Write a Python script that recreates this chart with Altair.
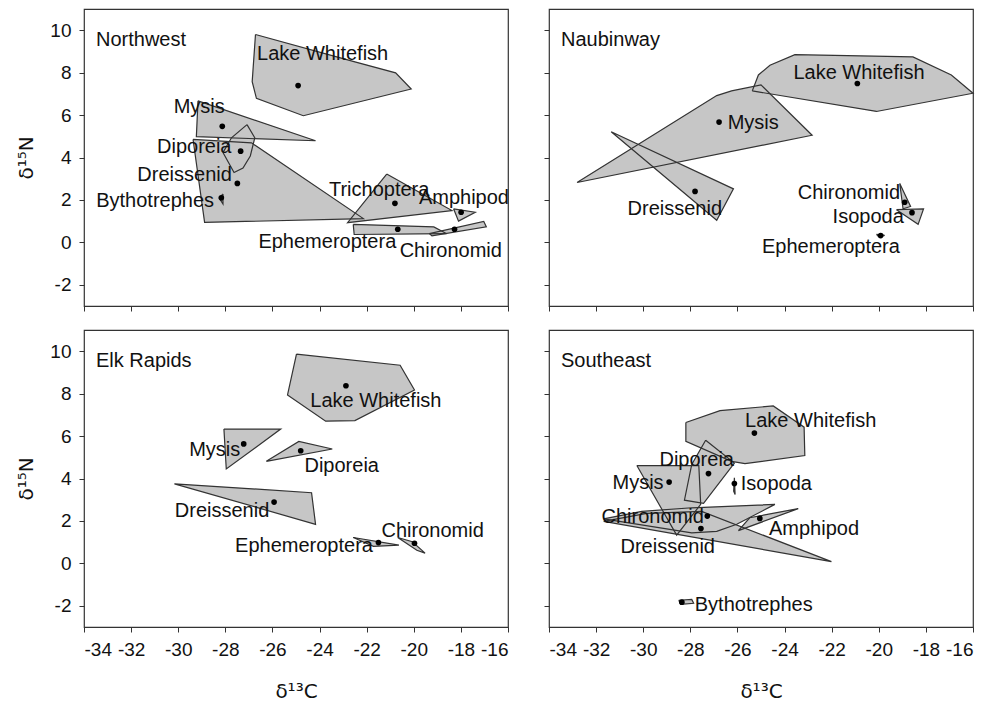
import altair as alt
import pandas as pd

# ---------------- data ----------------
X_TICKS = [-34, -32, -30, -28, -26, -24, -22, -20, -18, -16]
Y_TICKS = [-2, 0, 2, 4, 6, 8, 10]
X_DOMAIN = [-34, -16]
Y_DOMAIN = [-3, 11]

PANELS = ["Northwest", "Naubinway", "Elk Rapids", "Southeast"]

NORTHWEST_HULLS = {
    "Lake Whitefish": [(-26.72, 9.80), (-22.50, 8.51), (-20.77, 7.99), (-20.11, 7.23), (-24.69, 5.97), (-26.68, 6.79), (-26.86, 7.57)],
    "Mysis": [(-29.16, 6.67), (-24.17, 4.79), (-29.23, 4.98)],
    "Diporeia": [(-27.08, 5.55), (-26.75, 4.93), (-26.94, 4.07), (-27.25, 3.50), (-27.63, 3.29), (-28.10, 4.23), (-27.74, 4.93)],
    "Dreissenid": [(-29.37, 4.85), (-26.89, 4.69), (-22.14, 1.12), (-28.88, 0.94)],
    "Bythotrephes": [(-28.10, 2.28), (-28.10, 1.81), (-28.26, 2.09)],
    "Trichoptera": [(-21.15, 3.22), (-18.38, 1.50), (-22.81, 0.93)],
    "Amphipod": [(-18.31, 1.58), (-17.39, 1.42), (-18.10, 1.00)],
    "Ephemeroptera": [(-22.57, 0.85), (-19.15, 0.73), (-18.60, 0.41), (-22.53, 0.37)],
    "Chironomid": [(-19.34, 0.41), (-17.03, 0.99), (-16.92, 0.73), (-19.23, 0.31)],
}
NORTHWEST_MEANS = {
    "Lake Whitefish": (-24.91, 7.39), "Mysis": (-28.13, 5.47), "Diporeia": (-27.35, 4.30),
    "Dreissenid": (-27.49, 2.78), "Bythotrephes": (-28.17, 2.10), "Trichoptera": (-20.80, 1.84),
    "Amphipod": (-17.99, 1.42), "Ephemeroptera": (-20.68, 0.62), "Chironomid": (-18.27, 0.62),
}
NORTHWEST_LABELS = {
    "Lake Whitefish": (-23.87, 8.87), "Mysis": (-29.11, 6.36), "Diporeia": (-29.32, 4.51),
    "Dreissenid": (-29.73, 3.18), "Bythotrephes": (-30.98, 1.97), "Trichoptera": (-21.47, 2.47),
    "Amphipod": (-17.87, 2.11), "Ephemeroptera": (-23.67, 0.0), "Chironomid": (-18.43, -0.40),
}

NAUBINWAY_HULLS = {
    "Lake Whitefish": [(-25.37, 7.14), (-25.11, 7.89), (-24.62, 8.35), (-23.56, 8.85), (-18.55, 8.74), (-16.92, 7.89), (-16.0, 7.03), (-20.10, 6.17)],
    "Mysis": [(-32.81, 2.82), (-26.88, 6.92), (-26.25, 7.14), (-25.0, 7.42), (-22.83, 5.05)],
    "Dreissenid": [(-31.36, 5.21), (-26.17, 2.52), (-26.88, 1.04)],
    "Chironomid": [(-19.11, 2.78), (-18.65, 1.69), (-18.97, 1.58)],
    "Isopoda": [(-19.25, 1.54), (-18.10, 1.58), (-18.33, 0.85)],
    "Ephemeroptera": [(-20.10, 0.38), (-19.75, 0.33), (-20.00, 0.26)],
}
NAUBINWAY_MEANS = {
    "Lake Whitefish": (-20.91, 7.49), "Mysis": (-26.78, 5.67), "Dreissenid": (-27.80, 2.40),
    "Chironomid": (-18.90, 1.89), "Isopoda": (-18.59, 1.40), "Ephemeroptera": (-19.92, 0.32),
}
NAUBINWAY_LABELS = {
    "Lake Whitefish": (-20.84, 7.96), "Mysis": (-25.33, 5.63), "Dreissenid": (-28.66, 1.58),
    "Chironomid": (-21.27, 2.31), "Isopoda": (-20.45, 1.19), "Ephemeroptera": (-22.03, -0.21),
}

ELK_RAPIDS_HULLS = {
    "Lake Whitefish": [(-24.98, 9.86), (-20.58, 9.34), (-19.97, 8.17), (-22.50, 6.73), (-23.74, 6.70), (-25.36, 7.94)],
    "Mysis": [(-28.06, 6.33), (-25.65, 6.33), (-27.96, 4.45)],
    "Diporeia": [(-26.26, 4.81), (-24.88, 5.75), (-23.46, 5.39)],
    "Dreissenid": [(-30.16, 3.75), (-24.34, 3.33), (-24.17, 1.84)],
    "Ephemeroptera": [(-22.57, 1.22), (-20.63, 0.86), (-21.71, 0.80)],
    "Chironomid": [(-20.68, 1.22), (-20.06, 1.02), (-19.52, 0.48), (-19.87, 0.62)],
}
ELK_RAPIDS_MEANS = {
    "Lake Whitefish": (-22.88, 8.37), "Mysis": (-27.22, 5.63), "Diporeia": (-24.80, 5.31),
    "Dreissenid": (-25.93, 2.89), "Ephemeroptera": (-21.50, 0.98), "Chironomid": (-19.97, 0.95),
}
ELK_RAPIDS_LABELS = {
    "Lake Whitefish": (-21.61, 7.67), "Mysis": (-28.45, 5.33), "Diporeia": (-23.06, 4.61),
    "Dreissenid": (-28.14, 2.47), "Ephemeroptera": (-24.66, 0.83), "Chironomid": (-19.20, 1.53),
}

SOUTHEAST_HULLS = {
    "Lake Whitefish": [(-28.19, 6.64), (-26.74, 7.20), (-24.48, 7.42), (-23.17, 6.42), (-23.14, 5.08), (-25.68, 4.70), (-26.25, 4.81), (-28.19, 5.75)],
    "Diporeia": [(-27.35, 5.80), (-26.13, 4.73), (-27.44, 2.83), (-28.25, 2.98), (-27.94, 4.66)],
    "Mysis": [(-30.27, 4.61), (-27.64, 4.61), (-27.56, 2.78), (-28.58, 1.33)],
    "Isopoda": [(-26.13, 4.03), (-26.10, 3.25), (-26.16, 3.40)],
    "Chironomid": [(-31.68, 2.10), (-30.06, 2.45), (-27.94, 2.62), (-24.41, 2.78), (-26.03, 1.84), (-26.88, 1.51), (-27.94, 1.44)],
    "Dreissenid": [(-31.68, 1.98), (-29.85, 2.36), (-27.52, 2.45), (-22.01, 0.08)],
    "Amphipod": [(-25.96, 1.54), (-23.42, 2.58), (-25.48, 2.15)],
    "Bythotrephes": [(-28.49, -1.74), (-27.94, -1.70), (-27.86, -1.88), (-28.41, -1.93)],
}
SOUTHEAST_MEANS = {
    "Lake Whitefish": (-25.28, 6.14), "Diporeia": (-27.23, 4.23), "Mysis": (-28.90, 3.83),
    "Isopoda": (-26.13, 3.76), "Chironomid": (-27.28, 2.23), "Dreissenid": (-27.55, 1.64),
    "Amphipod": (-25.05, 2.12), "Bythotrephes": (-28.36, -1.83),
}
SOUTHEAST_LABELS = {
    "Lake Whitefish": (-22.89, 6.69), "Diporeia": (-27.73, 4.89), "Mysis": (-30.22, 3.80),
    "Isopoda": (-24.35, 3.72), "Chironomid": (-29.60, 2.19), "Amphipod": (-22.75, 1.64),
    "Dreissenid": (-28.96, 0.75), "Bythotrephes": (-25.31, -1.95),
}

# ---------------- style ----------------
FONT = "Liberation Sans"
FS = 20
TICK_FS = 19
FILL = "#c6c6c6"
STROKE = "#333333"
W, H = 424, 297


def hull_frame(hulls):
    rows = []
    for g, pts in hulls.items():
        closed = list(pts) + [pts[0]]
        for i, (x, y) in enumerate(closed):
            rows.append({"group": g, "i": i, "x": x, "y": y})
    return pd.DataFrame(rows)


def point_frame(d):
    return pd.DataFrame([{"group": g, "x": v[0], "y": v[1]} for g, v in d.items()])


def panel(title, hulls, means, labels, bottom, left):
    xs = alt.Scale(domain=X_DOMAIN, nice=False, zero=False)
    ys = alt.Scale(domain=Y_DOMAIN, nice=False, zero=False)
    xaxis = alt.Axis(
        values=X_TICKS, labels=bottom, title="δ¹³C" if bottom else None,
        labelExpr="'' + datum.value", grid=False, domain=False,
        tickSize=5, tickColor=STROKE, labelFont=FONT, labelFontSize=TICK_FS,
        labelColor="#111", labelPadding=8, titleFont="DejaVu Sans",
        titleFontSize=20, titleFontWeight="normal", titleColor="#111", titlePadding=22,
    )
    yaxis = alt.Axis(
        values=Y_TICKS, labels=left, title="δ¹⁵N" if left else None,
        labelExpr="'' + datum.value", grid=False, domain=False,
        tickSize=5, tickColor=STROKE, labelFont=FONT, labelFontSize=TICK_FS,
        labelColor="#111", labelPadding=8, titleFont="DejaVu Sans",
        titleFontSize=20, titleFontWeight="normal", titleColor="#111", titlePadding=13,
    )
    hdf = hull_frame(hulls)
    base = alt.Chart(hdf).encode(
        x=alt.X("x:Q", scale=xs, axis=xaxis),
        y=alt.Y("y:Q", scale=ys, axis=yaxis),
        detail="group:N",
        order=alt.Order("i:Q"),
    )
    fills = base.mark_line(fill=FILL, stroke=FILL, strokeWidth=0.1, interpolate="linear")
    lines = base.mark_line(stroke=STROKE, strokeWidth=1.2, interpolate="linear")
    pts = alt.Chart(point_frame(means)).mark_circle(size=32, color="black", opacity=1).encode(
        x=alt.X("x:Q", scale=xs), y=alt.Y("y:Q", scale=ys)
    )
    ldf = pd.DataFrame([{"text": g, "x": v[0], "y": v[1]} for g, v in labels.items()])
    txt = alt.Chart(ldf).mark_text(
        font=FONT, fontSize=FS, color="#111", align="center", baseline="middle"
    ).encode(x=alt.X("x:Q", scale=xs), y=alt.Y("y:Q", scale=ys), text="text:N")
    ttl = alt.Chart(pd.DataFrame({"t": [title]})).mark_text(
        font=FONT, fontSize=FS, color="#111", align="left", baseline="middle"
    ).encode(x=alt.value(12), y=alt.value(31), text="t:N")
    return alt.layer(fills, lines, pts, txt, ttl).properties(width=W, height=H)


nw = panel(PANELS[0], NORTHWEST_HULLS, NORTHWEST_MEANS, NORTHWEST_LABELS, False, True)
nb = panel(PANELS[1], NAUBINWAY_HULLS, NAUBINWAY_MEANS, NAUBINWAY_LABELS, False, False)
er = panel(PANELS[2], ELK_RAPIDS_HULLS, ELK_RAPIDS_MEANS, ELK_RAPIDS_LABELS, True, True)
se = panel(PANELS[3], SOUTHEAST_HULLS, SOUTHEAST_MEANS, SOUTHEAST_LABELS, True, False)

chart = alt.concat(
    nw, nb, er, se, columns=2,
    spacing=alt.RowColnumber(row=24, column=41), bounds="flush",
).configure(
    background="white",
    padding={"left": 8, "top": 0, "right": 0, "bottom": 0},
    view=alt.ViewConfig(stroke=STROKE, strokeWidth=1.2),
)

chart.save("out.html", embed_options={"renderer": "svg", "actions": False})
